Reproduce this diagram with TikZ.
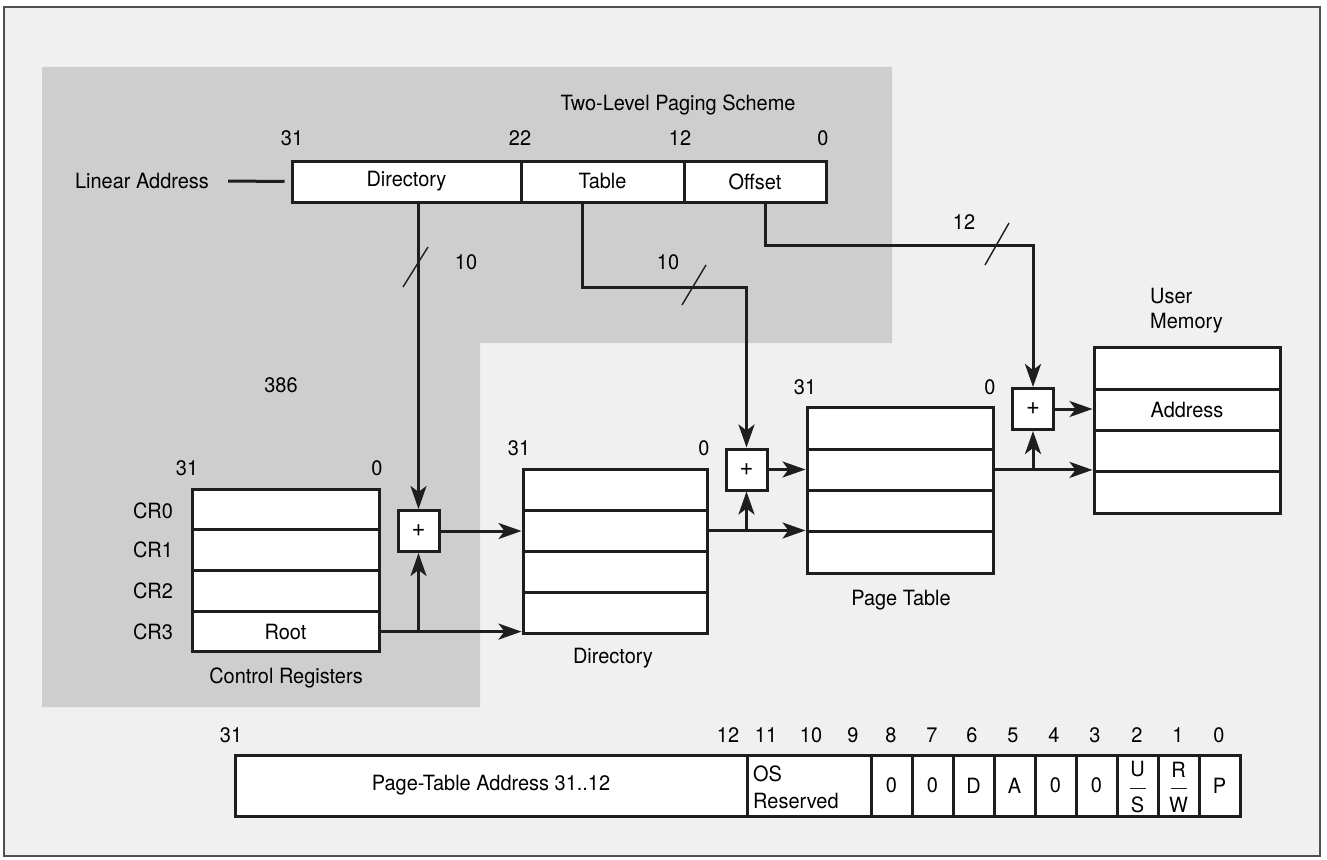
\documentclass[tikz,border=0pt]{standalone}
\usepackage{fontspec}
\setmainfont{TeX Gyre Heros}[FakeStretch=0.95]
\usetikzlibrary{arrows.meta}
\definecolor{ink}{RGB}{30,30,30}
\definecolor{paper}{RGB}{240,240,240}
\definecolor{grayfill}{RGB}{206,206,206}
\definecolor{framec}{RGB}{80,80,80}
\begin{document}
\begin{tikzpicture}[x=1pt,y=-1pt,
  lab/.style={font=\fontsize{21}{25}\selectfont, inner sep=0pt},
  cell/.style={draw=ink, line width=3pt, fill=white, minimum height=41pt, inner sep=0pt, font=\fontsize{21}{25}\selectfont},
  conn/.style={draw=ink, line width=3pt},
  arr/.style={conn, -{Stealth[length=23pt,width=16pt,inset=6pt]}},
  plusbox/.style={draw=ink, line width=3pt, fill=white, minimum size=41pt, inner sep=0pt, font=\fontsize{25}{25}\selectfont},
  slash/.style={draw=ink, line width=1.4pt},
  bar/.style={draw=ink, line width=1.3pt}
]
\useasboundingbox (0,0) rectangle (1327,859);
\fill[white] (0,0) rectangle (1327,859);
\filldraw[fill=paper, draw=framec, line width=1.5pt] (4,7) rectangle (1320,856);
\fill[grayfill] (42,67) -- (892,67) -- (892,343) -- (480,343) -- (480,707) -- (42,707) -- cycle;

% title and linear address
\node[lab] (title) at (678,105) {Two-Level Paging Scheme};
\node[cell, minimum width=229pt] (ladir) at (406.5,181.5) {Directory};
\node[cell, minimum width=163pt] (latab) at (602.5,181.5) {Table};
\node[cell, minimum width=142pt] (laoff) at (755,181.5) {Offset};
\node[lab] (b31) at (292,138) {31};
\node[lab] (b22) at (520,138) {22};
\node[lab] (b12) at (680,138) {12};
\node[lab] (b0) at (823,138) {0};
\node[lab] (lalab) at (142,181) {Linear Address};
\draw[conn] ([xshift=19pt]lalab.east) -- ([xshift=-6pt]ladir.west);

% adders
\node[plusbox] (plus1) at (418.5,531) {+};
\node[plusbox] (plus2) at (746.5,469.5) {+};
\node[plusbox] (plus3) at (1033,409) {+};

% control registers
\node[cell, minimum width=187pt, minimum height=40.75pt] (cr0) at (285.5,509.4) {};
\node[cell, minimum width=187pt, minimum height=40.75pt] (cr1) at (285.5,550.1) {};
\node[cell, minimum width=187pt, minimum height=40.75pt] (cr2) at (285.5,590.9) {};
\node[cell, minimum width=187pt, minimum height=40.75pt] (cr3) at (285.5,631.6) {Root};
\node[lab] (lcr0) at (153,511) {CR0};
\node[lab] (lcr1) at (153,550) {CR1};
\node[lab] (lcr2) at (153,591) {CR2};
\node[lab] (lcr3) at (153,632) {CR3};
\node[lab] (cr31) at (187,468) {31};
\node[lab] (crz) at (377,468) {0};
\node[lab] (crcap) at (286,678) {Control Registers};
\node[lab] (n386) at (281,385) {386};

% directory
\node[cell, minimum width=184pt] (dir0) at (615,489.5) {};
\node[cell, minimum width=184pt] (dir1) at (615,530.5) {};
\node[cell, minimum width=184pt] (dir2) at (615,571.5) {};
\node[cell, minimum width=184pt] (dir3) at (615,612.5) {};
\node[lab] (d31) at (519,448) {31};
\node[lab] (dz) at (704,448) {0};
\node[lab] (dcap) at (613,658) {Directory};

% page table
\node[cell, minimum width=186pt, minimum height=41.25pt] (pt0) at (900,428.6) {};
\node[cell, minimum width=186pt, minimum height=41.25pt] (pt1) at (900,469.9) {};
\node[cell, minimum width=186pt, minimum height=41.25pt] (pt2) at (900,511.1) {};
\node[cell, minimum width=186pt, minimum height=41.25pt] (pt3) at (900,552.4) {};
\node[lab] (p31) at (805,387) {31};
\node[lab] (pz) at (990,387) {0};
\node[lab] (pcap) at (901,600) {Page Table};

% user memory
\node[cell, minimum width=186pt, minimum height=41.25pt] (mem0) at (1187,368.6) {};
\node[cell, minimum width=186pt, minimum height=41.25pt] (mem1) at (1187,409.9) {Address};
\node[cell, minimum width=186pt, minimum height=41.25pt] (mem2) at (1187,451.1) {};
\node[cell, minimum width=186pt, minimum height=41.25pt] (mem3) at (1187,492.4) {};
\node[lab, align=left, anchor=west] (umem) at (1150,311) {User\\Memory};

% connectors
\draw[arr] (ladir.south -| plus1.north) -- (plus1.north);
\draw[arr] ([xshift=-20.5pt]latab.south) -- ++(0,84) -| (plus2.north);
\draw[arr] ([xshift=10pt]laoff.south) -- ++(0,41.5) -| (plus3.north);
\draw[arr] (plus1.east) -- (plus1.east -| dir1.west);
\draw[arr] (cr3.east) -- (cr3.east -| dir3.west);
\draw[arr] (cr3.east -| plus1.south) -- (plus1.south);
\draw[arr] (dir1.east) -- (dir1.east -| pt0.west);
\draw[arr] (dir1.east -| plus2.south) -- (plus2.south);
\draw[arr] (plus2.east) -- (plus2.east -| pt0.west);
\draw[arr] (pt1.east) -- (pt1.east -| mem0.west);
\draw[arr] (pt1.east -| plus3.south) -- (plus3.south);
\draw[arr] (plus3.east) -- (plus3.east -| mem0.west);

% bus widths
\draw[slash] (403,287) -- (428,247);
\node[lab] (w1) at (466,262) {10};
\draw[slash] (682,305) -- (706,265);
\node[lab] (w2) at (668,262) {10};
\draw[slash] (985,265) -- (1009,223);
\node[lab] (w3) at (964,222) {12};

% page table entry format
\node[cell, minimum width=512pt, minimum height=61pt] (pta) at (491,785.5) {Page-Table Address 31..12};
\node[cell, minimum width=124pt, minimum height=61pt] (osr) at (809,785.5) {};
\node[lab, align=left, anchor=west, font=\fontsize{21}{27}\selectfont] (osrt) at (753,787) {OS\\Reserved};
\node[cell, minimum width=41pt, minimum height=61pt] (c8) at (891.5,785.5) {0};
\node[cell, minimum width=41pt, minimum height=61pt] (c7) at (932.5,785.5) {0};
\node[cell, minimum width=41pt, minimum height=61pt] (c6) at (973.5,785.5) {D};
\node[cell, minimum width=41pt, minimum height=61pt] (c5) at (1014.5,785.5) {A};
\node[cell, minimum width=41pt, minimum height=61pt] (c4) at (1055.5,785.5) {0};
\node[cell, minimum width=41pt, minimum height=61pt] (c3) at (1096.5,785.5) {0};
\node[cell, minimum width=41pt, minimum height=61pt] (c2) at (1137.5,785.5) {};
\node[cell, minimum width=41pt, minimum height=61pt] (c1) at (1178.5,785.5) {};
\node[cell, minimum width=41pt, minimum height=61pt] (c0) at (1219.5,785.5) {P};
\node[lab] (c2u) at ([yshift=16pt]c2.center) {U};
\draw[bar] ([xshift=-8pt,yshift=-3pt]c2.center) -- ([xshift=8pt,yshift=-3pt]c2.center);
\node[lab] (c2s) at ([yshift=-19pt]c2.center) {S};
\node[lab] (c1r) at ([yshift=16pt]c1.center) {R};
\draw[bar] ([xshift=-8pt,yshift=-3pt]c1.center) -- ([xshift=8pt,yshift=-3pt]c1.center);
\node[lab] (c1w) at ([yshift=-19pt]c1.center) {W};

\node[lab] (e31) at (231,735) {31};
\node[lab] (e12) at (728,735) {12};
\node[lab] (e11) at (766,735) {11};
\node[lab] (e10) at (811,735) {10};
\node[lab] (e9) at (853,735) {9};
\node[lab] (e8) at (891,735) {8};
\node[lab] (e7) at (932,735) {7};
\node[lab] (e6) at (972,735) {6};
\node[lab] (e5) at (1013,735) {5};
\node[lab] (e4) at (1054,735) {4};
\node[lab] (e3) at (1095,735) {3};
\node[lab] (e2) at (1137,735) {2};
\node[lab] (e1) at (1178,735) {1};
\node[lab] (e0) at (1219,735) {0};
\end{tikzpicture}
\end{document}
